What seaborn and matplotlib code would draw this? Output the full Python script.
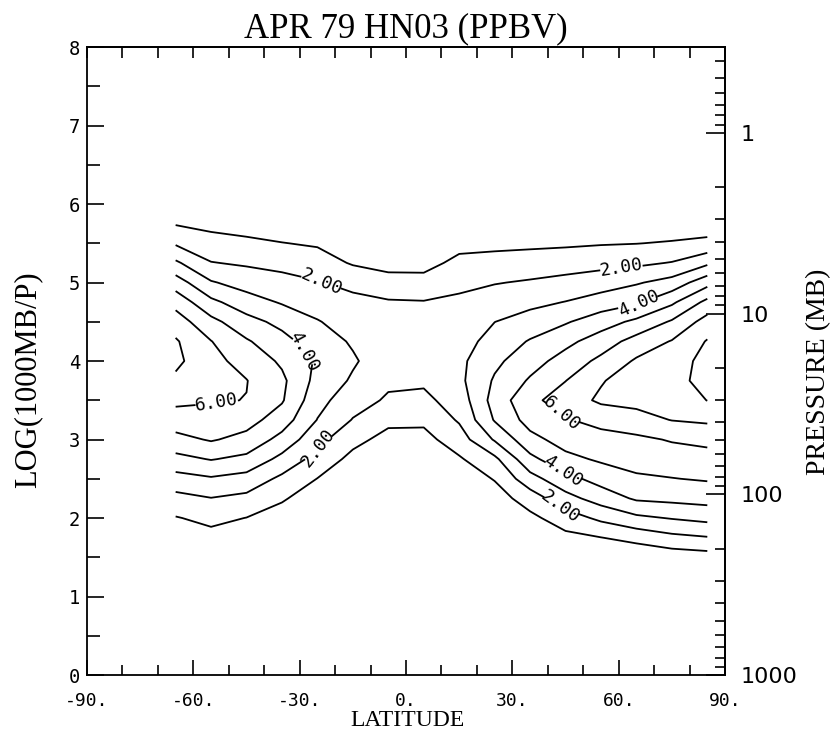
import numpy as np
import matplotlib
matplotlib.use("Agg")
import matplotlib.pyplot as plt
import seaborn as sns

sns.set_style("ticks")
plt.rcParams["font.family"] = ["DejaVu Sans Mono", "DejaVu Sans"]
plt.rcParams.update({"text.color": "black", "axes.labelcolor": "black",
                     "xtick.color": "black", "ytick.color": "black",
                     "axes.edgecolor": "black"})

# Grid: latitude (deg) and log(1000mb/p)
lats = [-65, -55, -45, -35, -25, -15, -5, 5, 15, 25, 35, 45, 55, 65, 75, 85]
zlev = [1.5, 1.75, 2.0, 2.25, 2.5, 2.75, 3.0, 3.25, 3.5, 3.75,
        4.0, 4.25, 4.5, 4.75, 5.0, 5.25, 5.5, 5.75, 6.0]

# HNO3 mixing ratio (ppbv); one profile per latitude, listed bottom to top
hno3_by_lat = [
    [0.20, 0.44, 0.94, 1.69, 2.63, 3.70, 4.69, 5.53, 6.23, 6.80, 7.23, 7.11, 6.50, 5.65, 4.50, 3.17, 1.88, 0.93, 0.30],
    [0.20, 0.68, 1.26, 1.97, 2.89, 4.05, 5.09, 5.63, 6.08, 6.35, 6.29, 6.03, 5.29, 4.24, 3.09, 2.04, 1.37, 0.73, 0.20],
    [0.20, 0.48, 0.98, 1.75, 2.63, 3.75, 4.69, 5.39, 5.98, 6.03, 5.65, 5.11, 4.35, 3.44, 2.59, 1.87, 1.21, 0.58, 0.20],
    [0.20, 0.20, 0.58, 1.11, 1.78, 2.71, 3.67, 4.50, 5.10, 5.21, 4.84, 4.34, 3.72, 2.91, 2.33, 1.70, 1.03, 0.40, 0.20],
    [0.20, 0.20, 0.20, 0.48, 0.98, 1.63, 2.30, 2.97, 3.33, 3.67, 3.87, 3.47, 3.06, 2.57, 2.06, 1.48, 0.88, 0.25, 0.20],
    [0.20, 0.20, 0.20, 0.20, 0.22, 0.72, 1.29, 1.95, 2.42, 2.87, 3.12, 2.89, 2.57, 2.24, 1.75, 0.90, 0.28, 0.20, 0.20],
    [0.20, 0.20, 0.20, 0.20, 0.20, 0.20, 0.68, 1.23, 1.87, 2.18, 2.42, 2.55, 2.32, 2.09, 1.40, 0.63, 0.20, 0.20, 0.20],
    [0.20, 0.20, 0.20, 0.20, 0.20, 0.20, 0.68, 1.20, 1.77, 2.15, 2.40, 2.55, 2.30, 2.05, 1.35, 0.65, 0.20, 0.20, 0.20],
    [0.20, 0.20, 0.20, 0.20, 0.38, 0.88, 1.53, 2.11, 2.44, 2.77, 2.77, 2.56, 2.35, 2.14, 1.82, 1.27, 0.68, 0.20, 0.20],
    [0.20, 0.20, 0.20, 0.54, 1.06, 1.77, 3.10, 4.08, 4.40, 4.12, 3.78, 3.39, 2.99, 2.48, 1.95, 1.36, 0.75, 0.20, 0.20],
    [0.20, 0.26, 0.76, 1.46, 2.63, 3.73, 4.69, 5.39, 5.73, 5.12, 4.59, 4.08, 3.42, 2.74, 2.10, 1.45, 0.80, 0.20, 0.20],
    [0.24, 0.74, 1.50, 2.65, 3.67, 4.73, 5.40, 5.92, 6.50, 5.98, 5.40, 4.73, 3.90, 3.03, 2.29, 1.56, 0.85, 0.23, 0.20],
    [0.48, 0.98, 2.22, 3.44, 4.38, 5.14, 5.64, 6.32, 7.17, 6.92, 6.24, 5.48, 4.55, 3.46, 2.52, 1.69, 0.93, 0.30, 0.20],
    [0.20, 1.33, 2.79, 4.14, 4.86, 5.35, 5.79, 6.65, 7.28, 7.52, 7.13, 6.39, 5.22, 3.85, 2.90, 1.80, 0.98, 0.35, 0.20],
    [0.42, 1.74, 3.06, 4.26, 4.97, 5.51, 6.08, 7.03, 7.36, 7.78, 7.60, 7.06, 6.12, 4.81, 3.37, 2.05, 1.08, 0.43, 0.20],
    [0.56, 1.94, 3.29, 4.38, 5.09, 5.62, 6.26, 7.17, 8.02, 8.22, 8.27, 8.07, 7.41, 6.28, 4.64, 2.80, 1.24, 0.48, 0.20],
]

plain_levels = [1, 3, 5, 7, 8]
label_levels = [2, 4, 6]

xticks = [-90, -60, -30, 0, 30, 60, 90]
xtick_labels = ["-90.", "-60.", "-30.", "0.", "30.", "60.", "90."]
yticks = [0, 1, 2, 3, 4, 5, 6, 7, 8]
ytick_labels = ["0", "1", "2", "3", "4", "5", "6", "7", "8"]
p_ticks = [1, 10, 100, 1000]
p_labels = ["1", "10", "100", "1000"]

# where the contour value labels sit (lat, log-pressure)
label_spots = [(-24, 5.0), (-30, 4.1), (-53, 3.4), (-25, 2.9),
               (61, 5.14), (66, 4.71), (44, 3.33), (44, 2.59), (43.5, 2.14)]

SERIF = "Liberation Serif"

fig = plt.figure(figsize=(8.35, 7.35), dpi=100)
ax = fig.add_axes([0.1042, 0.0816, 0.7641, 0.8544])

Z = np.array(hno3_by_lat).T
ax.contour(lats, zlev, Z, levels=plain_levels, colors="black", linewidths=1.3)
cs_lab = ax.contour(lats, zlev, Z, levels=label_levels, colors="black", linewidths=1.3)
ax.clabel(cs_lab, manual=label_spots, fmt=lambda v: f"{v:.2f}",
          inline=True, inline_spacing=4, fontsize=13, colors="black")

ax.set_xlim(-90, 90)
ax.set_ylim(0, 8)
ax.set_xticks(xticks, labels=xtick_labels)
ax.set_xticks(list(range(-90, 91, 10)), minor=True)
ax.set_yticks(yticks, labels=ytick_labels)
ax.set_yticks([v + 0.5 for v in yticks[:-1]], minor=True)

ax.tick_params(axis="x", which="major", direction="in", length=11, width=1.2,
               pad=12, labelsize=13, top=False)
ax.tick_params(axis="x", which="minor", direction="in", length=7, width=1.2, top=False)
ax.tick_params(axis="y", which="major", direction="in", length=12, width=1.2,
               pad=5, labelsize=13.5, right=False)
ax.tick_params(axis="y", which="minor", direction="in", length=9, width=1.2, right=False)
for sp in ax.spines.values():
    sp.set_linewidth(1.3)
    sp.set_color("black")

# top edge: evenly spaced inward ticks every 10 degrees
top = ax.secondary_xaxis("top")
top.set_xticks(list(range(-90, 91, 10)), labels=[""] * 19)
top.tick_params(direction="in", length=8, width=1.2, color="black")
top.spines["top"].set_linewidth(1.3)

# right edge: pressure scale, y = ln(1000/p)
def to_pressure(y):
    return 1000.0 * np.exp(-np.asarray(y, dtype=float))

def from_pressure(p):
    p = np.clip(np.asarray(p, dtype=float), 1e-9, None)
    return np.log(1000.0 / p)

sec = ax.secondary_yaxis("right", functions=(to_pressure, from_pressure))
sec.set_yticks(p_ticks, labels=p_labels)
p_minor = [m * d for d in (0.1, 1, 10, 100) for m in range(2, 10) if 0.34 < m * d < 1000]
sec.set_yticks(p_minor, minor=True)
sec.tick_params(which="major", direction="in", length=14, width=1.2, pad=11,
                labelsize=16, labelfontfamily="DejaVu Sans", colors="black")
sec.tick_params(which="minor", direction="in", length=7, width=1.2, colors="black")
sec.spines["right"].set_linewidth(1.3)

ax.set_title("APR 79 HN03 (PPBV)", fontfamily=SERIF, fontsize=25, pad=7, color="black")
fig.text(407 / 835, 1 - 721 / 735, "LATITUDE", ha="center", va="center",
         fontfamily=SERIF, fontsize=17, color="black")
fig.text(28 / 835, 1 - 380 / 735, "LOG(1000MB/P)", ha="center", va="center",
         rotation=90, fontfamily=SERIF, fontsize=22, color="black")
fig.text(819 / 835, 1 - 372 / 735, "PRESSURE (MB)", ha="center", va="center",
         rotation=90, fontfamily=SERIF, fontsize=20, color="black")

fig.savefig("out.png", dpi=100, facecolor="white")
